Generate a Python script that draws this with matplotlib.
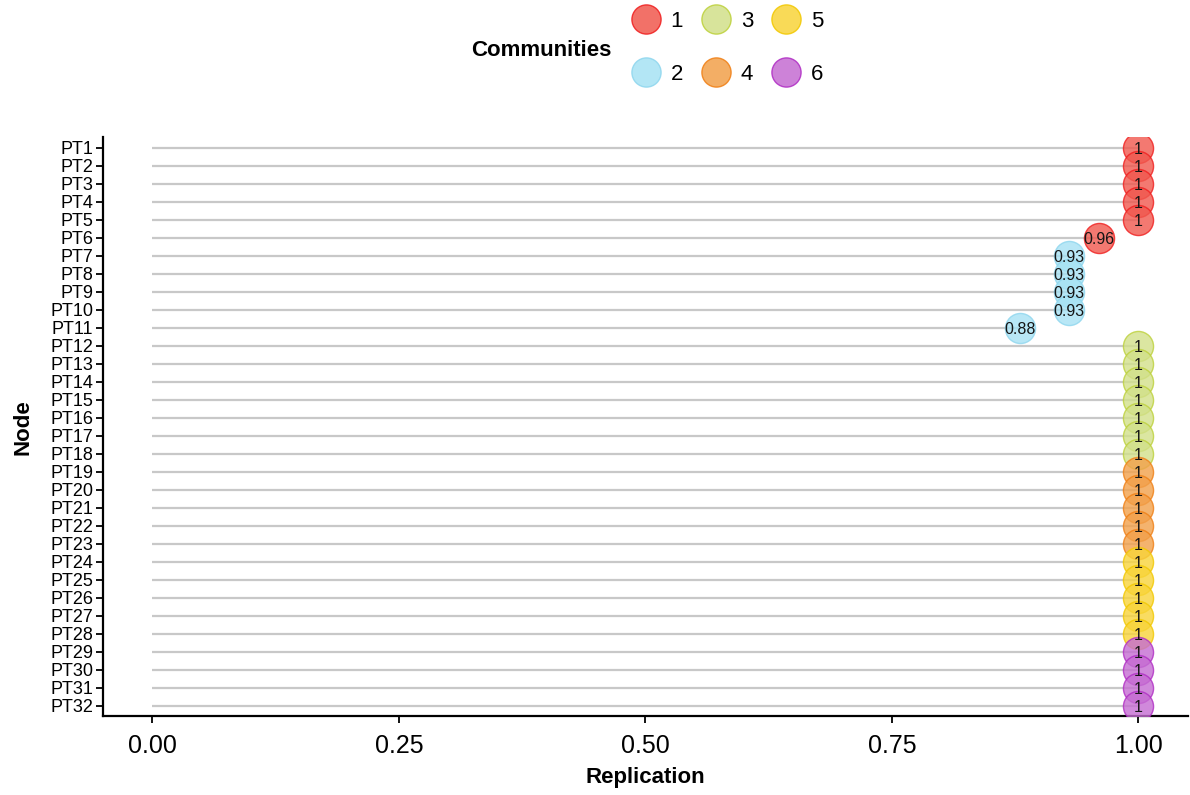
import matplotlib
matplotlib.use("Agg")
import matplotlib.pyplot as plt
from matplotlib.lines import Line2D
from matplotlib import font_manager

# data
nodes = ["PT%d" % i for i in range(1, 33)]
replication = [1, 1, 1, 1, 1, 0.96,
               0.93, 0.93, 0.93, 0.93, 0.88,
               1, 1, 1, 1, 1, 1, 1,
               1, 1, 1, 1, 1,
               1, 1, 1, 1, 1,
               1, 1, 1, 1]
community = [1] * 6 + [2] * 5 + [3] * 7 + [4] * 5 + [5] * 5 + [6] * 4
value_labels = ["1", "1", "1", "1", "1", "0.96",
                "0.93", "0.93", "0.93", "0.93", "0.88"] + ["1"] * 21
comm_names = ["1", "2", "3", "4", "5", "6"]
fill_cols = ["#F0584E", "#A6E2F4", "#D2E08A", "#F2A04A", "#F8D43A", "#C56CD2"]
edge_cols = ["#F01E1E", "#8ED6EE", "#BDD13A", "#F07F14", "#F2C800", "#B02CC4"]

names = {f.name for f in font_manager.fontManager.ttflist}
narrow = "Liberation Sans Narrow" if "Liberation Sans Narrow" in names else "Liberation Sans"
plt.rcParams['font.family'] = ['Liberation Sans', 'DejaVu Sans']

fig = plt.figure(figsize=(11.9, 7.95), dpi=100)
ax = fig.add_axes([0.0866, 0.099, 0.9114, 0.7287])

ypos = list(range(1, len(nodes) + 1))
for y, v in zip(ypos, replication):
    ax.plot([0, v], [y, y], color="#C8C8C8", lw=1.6, zorder=1, solid_capstyle="butt")

for y, v, c in zip(ypos, replication, community):
    ax.scatter(v, y, s=470, color=fill_cols[c - 1], alpha=0.8,
               edgecolors=edge_cols[c - 1], linewidths=1.0, zorder=3)
for y, v, lab in zip(ypos, replication, value_labels):
    ax.text(v, y + 0.12, lab, ha="center", va="center", fontsize=11.5,
            color="#151515", zorder=4)

ax.set_xlim(-0.05, 1.05)
ax.set_ylim(32.6, 0.4)
ax.set_xticks([0, 0.25, 0.5, 0.75, 1.0])
ax.set_xticklabels(["0.00", "0.25", "0.50", "0.75", "1.00"], family=narrow, fontsize=18)
ax.set_yticks(ypos)
ax.set_yticklabels(nodes, family=narrow, fontsize=13)
ax.tick_params(axis="both", length=5, width=1.3, color="black", pad=2)
ax.tick_params(axis="x", pad=8)

for s in ["top", "right"]:
    ax.spines[s].set_visible(False)
for s in ["left", "bottom"]:
    ax.spines[s].set_linewidth(1.6)
    ax.spines[s].set_color("black")

ax.set_xlabel("Replication", fontsize=16, fontweight="bold", labelpad=6)
ax.set_ylabel("Node", fontsize=16, fontweight="bold", labelpad=12)

handles = [Line2D([], [], marker="o", linestyle="none", markersize=21,
                  markerfacecolor=fill_cols[i], markeredgecolor=edge_cols[i],
                  alpha=0.85) for i in range(6)]
fig.legend(handles, comm_names, ncol=3, loc="center left",
           bbox_to_anchor=(0.513, 0.94), frameon=False,
           prop={"family": narrow, "size": 16},
           handletextpad=0.4, columnspacing=0.8, labelspacing=1.45,
           handlelength=1.4)
fig.text(0.455, 0.937, "Communities", fontsize=16, fontweight="bold",
         ha="center", va="center")

fig.savefig("out.png", dpi=100)
